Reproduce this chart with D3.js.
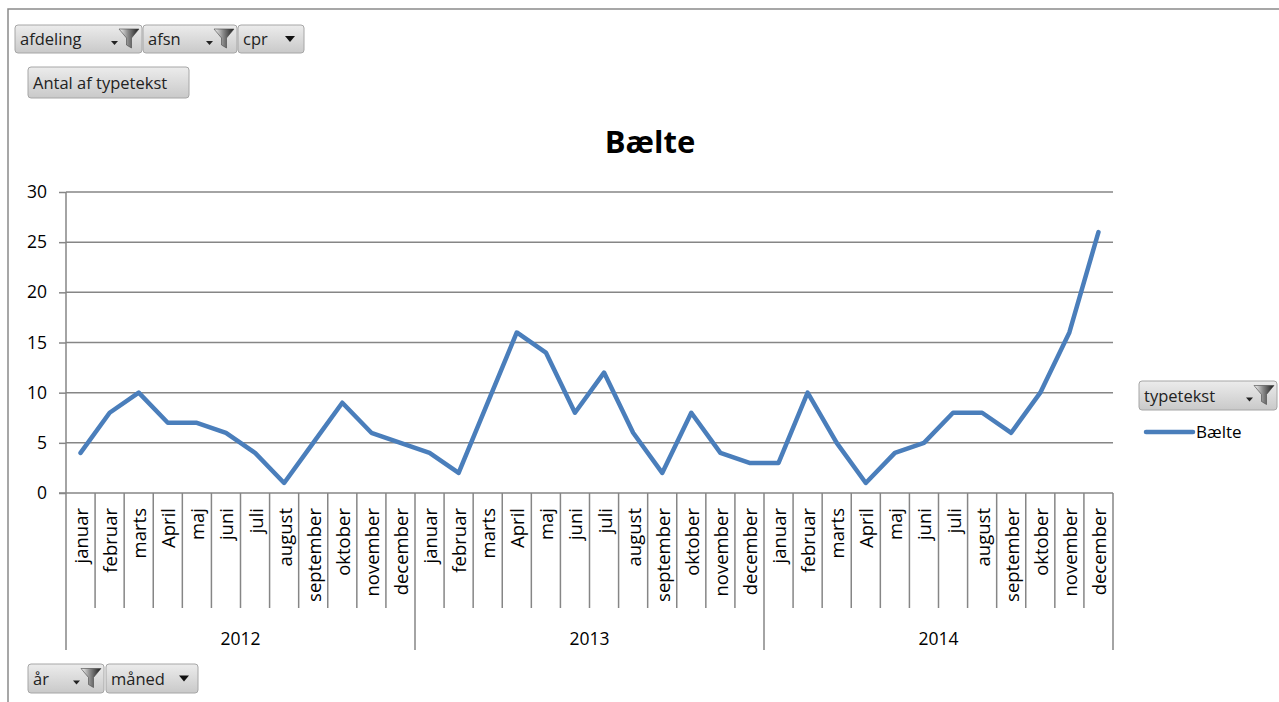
<!DOCTYPE html>
<html><head><meta charset="utf-8">
<script src="https://cdn.jsdelivr.net/npm/d3@7"></script>
<style>
html,body{margin:0;padding:0;background:#fff;}
svg{display:block;font-family:"Open Sans",sans-serif;}
</style></head>
<body>
<svg id="c" width="1279" height="702"></svg>
<script>
const years = ["2012","2013","2014"];
const months = ["januar","februar","marts","April","maj","juni","juli","august","september","oktober","november","december"];
const values2012 = [4,8,10,7,7,6,4,1,5,9,6,5];
const values2013 = [4,2,9,16,14,8,12,6,2,8,4,3];
const values2014 = [3,10,5,1,4,5,8,8,6,10,16,26];
const yTicks = [0,5,10,15,20,25,30];
const seriesName = "Bælte";
const chartTitle = "Bælte";

const data = [];
[values2012, values2013, values2014].forEach((arr, yi) => arr.forEach((v, mi) => data.push({year: years[yi], month: months[mi], key: yi*12+mi, value: v})));

const svg = d3.select("#c");
const L = 66, R = 1113, T = 192, B = 493;
const x = d3.scaleBand().domain(data.map(d => d.key)).range([L, R]);
const y = d3.scaleLinear().domain([0, 30]).range([B, T]);
const gridColor = "#868686";
const lineColor = "#4a7ebb";

// defs
const defs = svg.append("defs");
const grad = defs.append("linearGradient").attr("id","btn").attr("x1",0).attr("y1",0).attr("x2",0).attr("y2",1);
grad.append("stop").attr("offset","0%").attr("stop-color","#ececec");
grad.append("stop").attr("offset","100%").attr("stop-color","#c9c9c9");
const fg = defs.append("linearGradient").attr("id","fun").attr("x1",0).attr("y1",0).attr("x2",1).attr("y2",0);
fg.append("stop").attr("offset","0%").attr("stop-color","#f8f8f8");
fg.append("stop").attr("offset","45%").attr("stop-color","#8a8a8a");
fg.append("stop").attr("offset","100%").attr("stop-color","#1a1a1a");

// frame
svg.append("path").attr("d","M8,702 V9 H1279").attr("fill","none").attr("stroke","#8a8a8a").attr("stroke-width",1.5);

// title
svg.append("text").attr("x", 650).attr("y", 153).attr("text-anchor","middle")
  .attr("font-size", 31).attr("font-weight","bold").attr("fill","#000").text(chartTitle);

// gridlines
svg.append("g").selectAll("line").data(yTicks.filter(t => t > 0)).join("line")
  .attr("x1", L).attr("x2", R).attr("y1", d => y(d)).attr("y2", d => y(d))
  .attr("stroke", gridColor).attr("stroke-width", 1.5);

// y axis
const ya = svg.append("g").attr("transform", `translate(${L},0)`)
  .call(d3.axisLeft(y).tickValues(yTicks).tickSize(7).tickPadding(12));
ya.select(".domain").remove();
ya.selectAll(".tick line").attr("stroke", gridColor).attr("stroke-width",1.5);
ya.selectAll(".tick text").attr("font-size", 17.5).attr("fill","#000").attr("font-family","'Open Sans',sans-serif");
svg.append("line").attr("x1",L).attr("x2",L).attr("y1",T).attr("y2",B).attr("stroke",gridColor).attr("stroke-width",1.5);

// x axis line
svg.append("line").attr("x1",L-7).attr("x2",R).attr("y1",B).attr("y2",B).attr("stroke",gridColor).attr("stroke-width",1.5);

// month separators
const bounds = d3.range(0, data.length + 1);
svg.append("g").selectAll("line").data(bounds).join("line")
  .attr("x1", i => i < data.length ? x(i) : R).attr("x2", i => i < data.length ? x(i) : R)
  .attr("y1", B).attr("y2", i => i % 12 === 0 ? 650 : 608)
  .attr("stroke", gridColor).attr("stroke-width", 1.5);

// month labels
svg.append("g").selectAll("text").data(data).join("text")
  .attr("transform", d => `translate(${x(d.key) + x.bandwidth()/2 + 7.5},508) rotate(-90)`)
  .attr("text-anchor","end").attr("font-size", 18.5).attr("fill","#000").text(d => d.month);

// year labels
svg.append("g").selectAll("text").data(years).join("text")
  .attr("x", (d,i) => (x(i*12) + (i < 2 ? x((i+1)*12) : R)) / 2)
  .attr("y", 645).attr("text-anchor","middle").attr("font-size", 17.5).attr("fill","#000").text(d => d);

// line
svg.append("path").datum(data)
  .attr("d", d3.line().x(d => x(d.key) + x.bandwidth()/2).y(d => y(d.value)))
  .attr("fill","none").attr("stroke", lineColor).attr("stroke-width", 4.5)
  .attr("stroke-linejoin","round").attr("stroke-linecap","round");

// buttons
function button(bx, by, w, h, label, icon) {
  const g = svg.append("g").attr("transform", `translate(${bx},${by})`);
  g.append("rect").attr("width", w).attr("height", h).attr("rx", 3)
    .attr("fill","url(#btn)").attr("stroke","#a6a6a6").attr("stroke-width",1);
  g.append("text").attr("x", 5).attr("y", h/2 + 6).attr("font-size", 16.5).attr("fill","#222").text(label);
  if (icon === "filter") {
    g.append("path").attr("d", `M${w-31},${h/2+2} h7 l-3.5,4 z`).attr("fill","#222");
    g.append("path").attr("d", `M${w-23},${h/2-10} h20 l-7.5,9 v10 l-5,-3 v-7 z`).attr("fill","url(#fun)").attr("stroke","#444").attr("stroke-width",0.6);
  } else if (icon === "drop") {
    g.append("path").attr("d", `M${w-19},${h/2-3} h10 l-5,6 z`).attr("fill","#111");
  }
}
button(15, 25, 127, 28, "afdeling", "filter");
button(143, 25, 94, 28, "afsn", "filter");
button(238, 25, 66, 28, "cpr", "drop");
button(28, 67, 161, 31, "Antal af typetekst", null);
button(28, 664, 76, 29, "år", "filter");
button(106, 664, 92, 29, "måned", "drop");
button(1139, 381, 138, 29, "typetekst", "filter");

// legend
svg.append("line").attr("x1",1146).attr("x2",1193).attr("y1",432).attr("y2",432)
  .attr("stroke", lineColor).attr("stroke-width",4.5).attr("stroke-linecap","round");
svg.append("text").attr("x",1196).attr("y",438).attr("font-size",17).attr("fill","#000").text(seriesName);
</script>
</body></html>
